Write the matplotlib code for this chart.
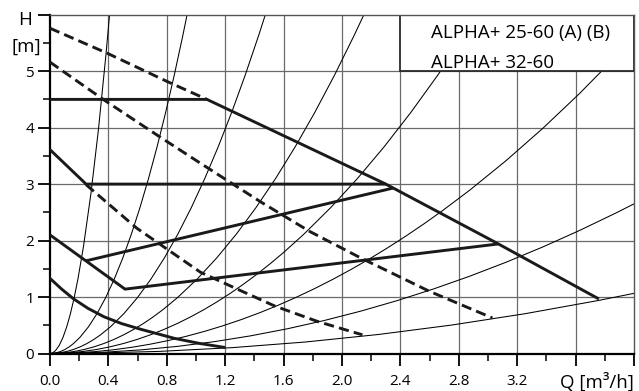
import numpy as np
import matplotlib
matplotlib.use('Agg')
import matplotlib.pyplot as plt
from matplotlib.path import Path
from matplotlib.patches import PathPatch, Rectangle

plt.rcParams['font.family'] = ['Open Sans', 'DejaVu Sans']

# system curves: point where each parabola leaves the frame (Q, H)
sys_end_q = [0.408, 0.939, 1.475, 2.15, 2.93, 4.0, 4.0, 4.0]
sys_end_h = [6.0, 6.0, 6.0, 6.0, 6.0, 5.6, 2.65, 1.065]

# pump curves, solid
max_q = [0.0, 1.075, 2.30, 3.05, 3.76]
max_h = [4.5, 4.5, 3.0, 1.97, 0.965]
cp3_q = [0.0, 0.247, 2.30]
cp3_h = [3.61, 3.0, 3.0]
pp_low_q = [0.0, 0.514, 3.07]
pp_low_h = [2.10, 1.14, 1.94]
pp_high_q = [0.245, 2.35]
pp_high_h = [1.64, 2.93]
min_q = [0.0, 0.08, 0.16, 0.26, 0.37, 0.49, 0.62, 0.85, 1.02, 1.19]
min_h = [1.33, 1.14, 0.97, 0.80, 0.65, 0.53, 0.43, 0.27, 0.18, 0.11]

# dashed curves
dash_top_q = [0.0, 0.39, 0.80, 1.075]
dash_top_h = [5.76, 5.32, 4.82, 4.5]
dash_mid_q = [0.0, 0.37, 0.75, 1.03, 1.44, 1.78, 2.13, 2.60, 3.03]
dash_mid_h = [5.16, 4.49, 3.84, 3.37, 2.69, 2.16, 1.69, 1.10, 0.63]
dash_low_q = [0.247, 0.594, 1.03, 1.30, 1.54, 1.83, 2.14]
dash_low_h = [2.99, 2.22, 1.44, 1.12, 0.84, 0.57, 0.33]

x_ticks = [0.0, 0.4, 0.8, 1.2, 1.6, 2.0, 2.4, 2.8, 3.2, 3.6, 4.0]
x_labels = ['0.0', '0.4', '0.8', '1.2', '1.6', '2.0', '2.4', '2.8', '3.2', '', '']
y_ticks = [0, 1, 2, 3, 4, 5, 6]
y_labels = ['0', '1', '2', '3', '4', '5', '']
legend_lines = ['ALPHA+ 25-60 (A) (B)', 'ALPHA+ 32-60']

fig = plt.figure(figsize=(6.39, 3.91), dpi=100)
ax = fig.add_axes([50/639, 1 - 353.5/391, 584/639, 338.8/391])
ax.set_xlim(0, 4.0)
ax.set_ylim(0, 6.0)

# grid
for x in x_ticks[1:-1]:
    ax.axvline(x, color='#6a6a6a', lw=0.9, zorder=1)
for y in y_ticks[1:-1]:
    ax.axhline(y, color='#6a6a6a', lw=0.9, zorder=1)

# system curves as exact parabolas (quadratic Bezier from origin)
for q1, h1 in zip(sys_end_q, sys_end_h):
    path = Path([(0, 0), (q1 / 2, 0), (q1, h1)],
                [Path.MOVETO, Path.CURVE3, Path.CURVE3])
    ax.add_patch(PathPatch(path, fill=False, ec='black', lw=0.75, zorder=2))

thick = dict(color='#1a1a1a', lw=2.1, zorder=4, solid_joinstyle='miter',
             solid_capstyle='butt')
ax.plot(max_q, max_h, **thick)
ax.plot(cp3_q, cp3_h, **thick)
ax.plot(pp_low_q, pp_low_h, **thick)
ax.plot(pp_high_q, pp_high_h, **thick)
ax.plot(min_q, min_h, color='#1a1a1a', lw=2.1, zorder=4, solid_joinstyle='round')

dashed = dict(color='#1a1a1a', lw=2.1, zorder=4, ls=(0, (3.5, 1.8)),
              dash_capstyle='butt')
ax.plot(dash_top_q, dash_top_h, **dashed)
ax.plot(dash_mid_q, dash_mid_h, **dashed)
ax.plot(dash_low_q, dash_low_h, **dashed)

# legend box
ax.add_patch(Rectangle((2.4, 5.0), 1.6, 1.0, facecolor='white',
                       edgecolor='#2a2a2a', lw=1.3, zorder=6))
ax.text(2.61, 5.58, legend_lines[0], fontsize=13.5, zorder=7, va='baseline')
ax.text(2.61, 5.06, legend_lines[1], fontsize=13.5, zorder=7, va='baseline')

# spines and ticks
for s in ['left', 'bottom']:
    ax.spines[s].set_linewidth(1.6)
    ax.spines[s].set_color('black')
for s in ['top', 'right']:
    ax.spines[s].set_linewidth(1.0)
    ax.spines[s].set_color('#555555')
ax.spines['top'].set_zorder(8)

ax.set_xticks(x_ticks)
ax.set_xticklabels(x_labels)
ax.set_xticks(np.arange(0.2, 4.0, 0.4), minor=True)
ax.set_yticks(y_ticks)
ax.set_yticklabels(y_labels)
ax.set_yticks([0.5, 1.5, 2.5, 3.5, 4.5, 5.5], minor=True)
ax.tick_params(which='major', direction='out', length=8.5, width=1.3,
               labelsize=11, pad=3)
ax.tick_params(axis='x', which='major', pad=6)
ax.tick_params(which='minor', direction='out', length=5, width=1.1)

ax.text(-0.12, 5.9, 'H', ha='right', va='center', fontsize=13.5, clip_on=False)
ax.text(-0.06, 5.43, '[m]', ha='right', va='center', fontsize=13.5, clip_on=False)
ax.text(4.0, -0.5, 'Q [m³/h]', ha='right', va='center', fontsize=13.5, clip_on=False)

fig.savefig('out.png', dpi=100)
